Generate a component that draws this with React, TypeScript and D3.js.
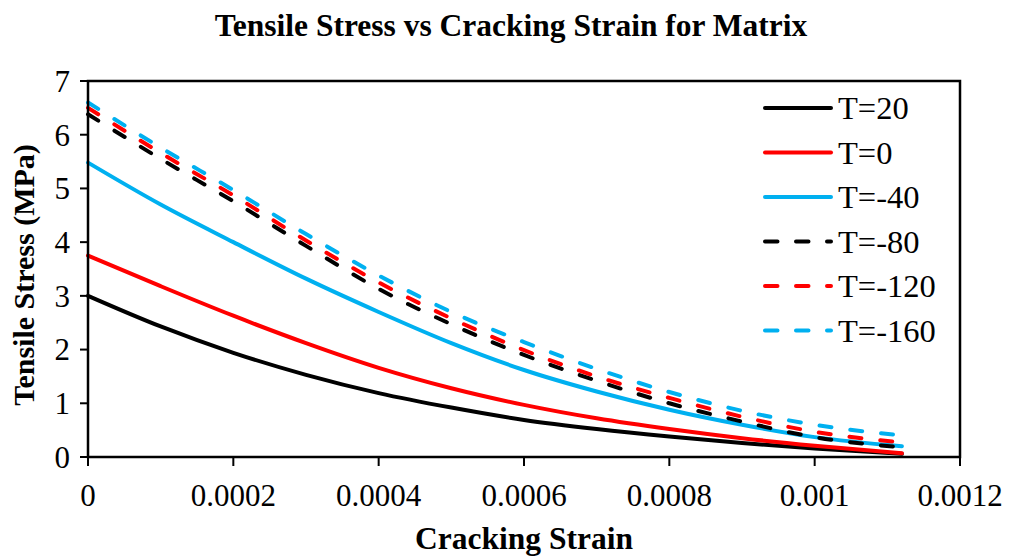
import React from "react";
import * as d3 from "d3";

const strains = [0, 0.0001, 0.0002, 0.0003, 0.0004, 0.0005, 0.0006, 0.0007, 0.0008, 0.0009, 0.001, 0.00112];
const seriesNames = ["T=20", "T=0", "T=-40", "T=-80", "T=-120", "T=-160"];
const t20 = [3.0, 2.43, 1.94, 1.53, 1.19, 0.92, 0.69, 0.52, 0.38, 0.26, 0.16, 0.06];
const t0 = [3.75, 3.18, 2.63, 2.12, 1.66, 1.28, 0.97, 0.72, 0.52, 0.35, 0.21, 0.07];
const tm40 = [5.48, 4.7, 4.0, 3.32, 2.7, 2.12, 1.62, 1.22, 0.88, 0.6, 0.37, 0.2];
const tm80 = [6.38, 5.55, 4.76, 3.93, 3.13, 2.47, 1.9, 1.42, 1.0, 0.66, 0.37, 0.18];
const tm120 = [6.5, 5.66, 4.87, 4.03, 3.25, 2.58, 1.99, 1.5, 1.1, 0.75, 0.47, 0.27];
const tm160 = [6.6, 5.76, 4.97, 4.15, 3.38, 2.7, 2.14, 1.64, 1.21, 0.86, 0.6, 0.4];
const seriesValues = [t20, t0, tm40, tm80, tm120, tm160];
const seriesColors = ["#000000", "#ff0000", "#00b0f0", "#000000", "#ff0000", "#00b0f0"];
const seriesDashed = [false, false, false, true, true, true];
const xTicks = [0, 0.0002, 0.0004, 0.0006, 0.0008, 0.001, 0.0012];
const xTickLabels = ["0", "0.0002", "0.0004", "0.0006", "0.0008", "0.001", "0.0012"];
const yTicks = [0, 1, 2, 3, 4, 5, 6, 7];

const W = 1009;
const H = 557;
const L = 88, R = 960, T = 81, B = 457;
const FONT = "'Liberation Serif', 'Times New Roman', Times, serif";

export default function App() {
  const x = d3.scaleLinear().domain([0, 0.0012]).range([L, R]);
  const y = d3.scaleLinear().domain([0, 7]).range([B, T]);
  const line = d3
    .line<[number, number]>()
    .x((d) => x(d[0]))
    .y((d) => y(d[1]))
    .curve(d3.curveMonotoneX);

  const legendX1 = 765, legendX2 = 831;
  const legendY0 = 108, legendStep = 44.5;

  return (
    <svg
      width={W}
      height={H}
      style={{ position: "absolute", left: 0, top: 0, background: "#fff" }}
      fontFamily={FONT}
    >
      <rect x={0} y={0} width={W} height={H} fill="#fff" />
      <text x={511} y={36} textAnchor="middle" fontSize={31.5} fontWeight="bold">
        Tensile Stress vs Cracking Strain for Matrix
      </text>

      {seriesValues.map((vals, i) => (
        <path
          key={seriesNames[i]}
          d={line(strains.map((s, j) => [s, vals[j]] as [number, number])) || ""}
          fill="none"
          stroke={seriesColors[i]}
          strokeWidth={4}
          strokeLinecap="round"
          strokeDasharray={seriesDashed[i] ? "12,19" : undefined}
        />
      ))}

      {/* frame */}
      <rect x={L} y={T} width={R - L} height={B - T} fill="none" stroke="#000" strokeWidth={2.5} />
      {yTicks.map((t) => (
        <g key={"y" + t}>
          <line x1={L - 8} x2={L} y1={y(t)} y2={y(t)} stroke="#000" strokeWidth={2} />
          <text x={70} y={y(t)} dy="0.35em" textAnchor="end" fontSize={31}>
            {t}
          </text>
        </g>
      ))}
      {xTicks.map((t, i) => (
        <g key={"x" + i}>
          <line x1={x(t)} x2={x(t)} y1={B} y2={B + 9} stroke="#000" strokeWidth={2} />
          <text x={x(t)} y={506} textAnchor="middle" fontSize={31}>
            {xTickLabels[i]}
          </text>
        </g>
      ))}

      <text x={524} y={549} textAnchor="middle" fontSize={31.5} fontWeight="bold">
        Cracking Strain
      </text>
      <text
        transform={`translate(34, ${(T + B) / 2 + 6}) rotate(-90)`}
        textAnchor="middle"
        fontSize={30}
        fontWeight="bold"
      >
        Tensile Stress (MPa)
      </text>

      {seriesNames.map((name, i) => {
        const ly = legendY0 + i * legendStep;
        return (
          <g key={"lg" + name}>
            <line
              x1={legendX1}
              x2={legendX2}
              y1={ly}
              y2={ly}
              stroke={seriesColors[i]}
              strokeWidth={4}
              strokeLinecap="round"
              strokeDasharray={seriesDashed[i] ? "12.5,18.5" : undefined}
            />
            <text x={838} y={ly} dy="0.35em" fontSize={32.5}>
              {name}
            </text>
          </g>
        );
      })}
    </svg>
  );
}
